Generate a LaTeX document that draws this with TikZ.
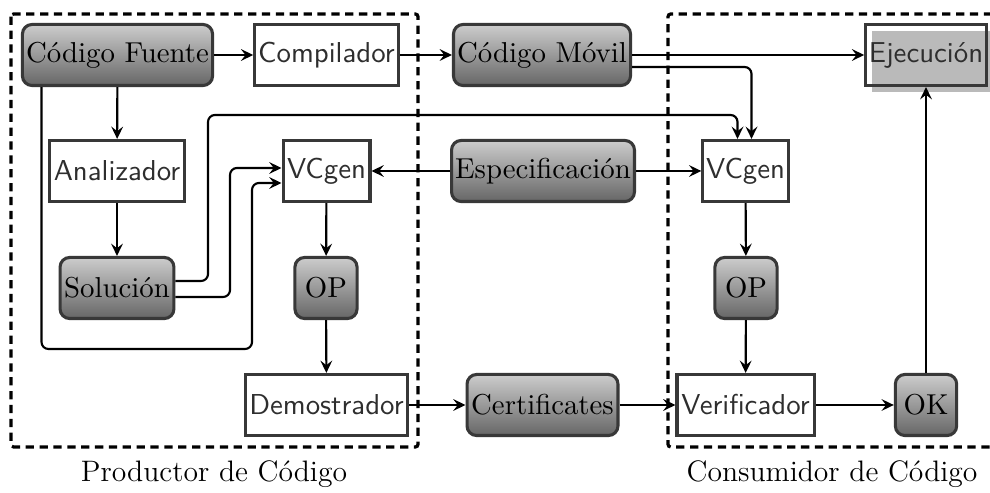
\documentclass[tikz,border=0pt]{standalone}
\usepackage{fontspec}
\usetikzlibrary{arrows.meta,calc,shadows}
\begin{document}
\begin{tikzpicture}[x=0.375pt,y=-0.375pt,
  every node/.style={font=\fontsize{10.8}{12}\selectfont},
  base/.style={draw=black!78, line width=1.15pt, minimum height=22.9pt, inner xsep=0.5pt, inner ysep=0pt},
  plain/.style={base, text=black!82, font=\fontsize{10.8}{12}\selectfont\sffamily},
  data/.style={base, text=black, rounded corners=3.6pt, top color=black!20, bottom color=black!60},
  conn/.style={line width=0.8pt, rounded corners=2.6pt, -{Stealth[length=4.6pt,width=4.4pt,inset=1.7pt]}},
  lbl/.style={font=\fontsize{11.1}{13}\selectfont},
  dbox/.style={line width=1.2pt, dash pattern=on 3.1pt off 2.1pt, rounded corners=1pt}]
\fill[white] (0,0) rectangle (990,493);
\useasboundingbox (0,0) rectangle (990,493);
% group frames
\draw[dbox] (11,14) rectangle (418,447);
\draw[dbox] (992,14) -- (668,14) -- (668,447) -- (992,447);
% nodes
\node[data, minimum width=71.3pt] (cf) at (117.5,55) {Código Fuente};
\node[plain, minimum width=53.8pt] (comp) at (326.5,55) {Compilador};
\node[data, minimum width=66.4pt] (cm) at (542,55) {Código Móvil};
\node[plain, minimum width=45.2pt, drop shadow={opacity=1, fill=black!27, shadow xshift=2.5pt, shadow yshift=-2.3pt}] (ej) at (926,55) {Ejecución};
\node[plain, minimum width=50.3pt] (an) at (117,171) {Analizador};
\node[plain, minimum width=32.6pt] (vcl) at (326.5,171) {VCgen};
\node[data, minimum width=68.6pt] (esp) at (543,171) {Especificación};
\node[plain, minimum width=32pt] (vcr) at (745.5,171) {VCgen};
\node[data, minimum width=42.7pt] (sol) at (117,288) {Solución};
\node[data, minimum width=23.3pt] (opl) at (326,288) {OP};
\node[data, minimum width=23.3pt] (opr) at (746,288) {OP};
\node[plain, minimum width=61pt] (dem) at (326.5,405) {Demostrador};
\node[data, minimum width=56.6pt] (cert) at (542.5,405) {Certificates};
\node[plain, minimum width=51.4pt] (ver) at (745.5,405) {Verificador};
\node[data, minimum width=23pt] (ok) at (926,405) {OK};
\node[lbl] (pl) at (214,474) {Productor de Código};
\node[lbl] (cl) at (832,474) {Consumidor de Código};
% waypoints
\coordinate (w1) at (208,115);
\coordinate (w2) at (230,168);
\coordinate (w3) at (252,349);
% connectors
\draw[conn] (cf) -- (comp);
\draw[conn] (comp) -- (cm);
\draw[conn] (cm) -- (ej);
\draw[conn] ($(cm.east)+(0,12)$) -| ($(vcr.north)+(6,0)$);
\draw[conn] (cf) -- (an);
\draw[conn] (an) -- (sol);
\draw[conn] ($(sol.east)+(0,-7)$) -| (w1) -| ($(vcr.north)+(-8,0)$);
\draw[conn] ($(sol.east)+(0,9)$) -| (w2) -- ($(vcl.west)+(0,-3)$);
\draw[conn] ($(cf.south)+(-76,0)$) |- (w3) |- ($(vcl.west)+(0,12)$);
\draw[conn] (esp) -- (vcl);
\draw[conn] (esp) -- (vcr);
\draw[conn] (vcl) -- (opl);
\draw[conn] (opl) -- (dem);
\draw[conn] (vcr) -- (opr);
\draw[conn] (opr) -- (ver);
\draw[conn] (dem) -- (cert);
\draw[conn] (cert) -- (ver);
\draw[conn] (ver) -- (ok);
\draw[conn] (ok) -- (ok.north |- ej.south);
\end{tikzpicture}
\end{document}
